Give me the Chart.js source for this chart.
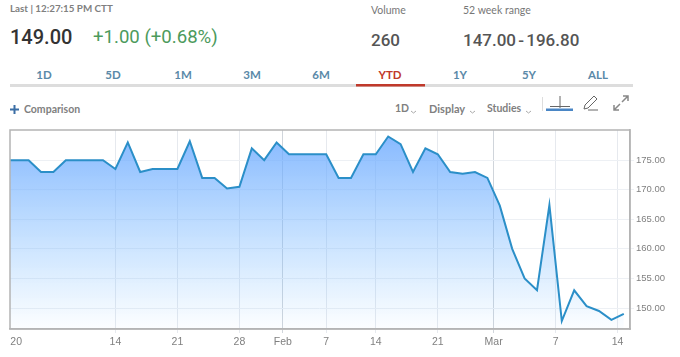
<!DOCTYPE html>
<html>
<head>
<meta charset="utf-8">
<title>YTD chart</title>
<script src="https://cdn.jsdelivr.net/npm/chart.js@4"></script>
<style>
html,body{margin:0;padding:0;background:#fff;width:680px;height:357px;overflow:hidden;font-family:Lato,"Open Sans",sans-serif}
.t{position:absolute;white-space:nowrap;line-height:1}
.big{font-family:Roboto,sans-serif;font-weight:500}
.tab{position:absolute;top:69px;width:70px;text-align:center;font-size:11.5px;font-weight:700;color:#5a89a8;line-height:1}
#wrap{position:absolute;left:0;top:120px;width:680px;height:237px}
#icons{position:absolute;left:0;top:0}
</style>
</head>
<body>
<div class="t" style="left:10px;top:4px;font-size:9.8px;font-weight:700;color:#808080">Last | 12:27:15 PM CTT</div>
<div class="t big" style="left:10px;top:27px;font-size:20px;color:#333">149.00</div>
<div class="t big" style="left:93px;top:28px;font-size:18.6px;font-weight:400;color:#4c9a5c">+1.00 (+0.68%)</div>
<div class="t" style="left:371px;top:5px;font-size:10.5px;color:#777">Volume</div>
<div class="t" style="left:463px;top:5px;font-size:10.5px;color:#777">52 week range</div>
<div class="t big" style="left:371px;top:32px;font-size:17px;color:#555">260</div>
<div class="t big" style="left:463px;top:32px;font-size:17px;word-spacing:-2px;color:#555">147.00 - 196.80</div>
<div id="tabs"></div>
<div class="t" style="left:24px;top:104px;font-size:10.5px;font-weight:700;color:#808080">Comparison</div>
<div class="t" style="left:395px;top:103px;font-size:10.5px;font-weight:700;color:#808080">1D</div>
<div class="t" style="left:429px;top:103px;font-size:11px;font-weight:700;color:#808080">Display</div>
<div class="t" style="left:487px;top:103px;font-size:10.5px;font-weight:700;color:#808080">Studies</div>
<svg id="icons" width="680" height="125" fill="none">
  <rect x="10" y="84" width="623" height="3" fill="#ddd"/>
  <rect x="356" y="84" width="69" height="2.5" fill="#c0392b"/>
  <path d="M10 109.500H19M14.500 105V114" stroke="#3b6ea5" stroke-width="2"/>
  <path d="M411 111l2.500 2 2.500-2M470 111l2.500 2 2.500-2M526 111l2.500 2 2.500-2" stroke="#aaa"/>
  <path d="M542.500 97V111" stroke="#ddd"/>
  <path d="M560 96V108M550 106.500H570" stroke="#666"/>
  <rect x="546" y="108.500" width="27" height="2.500" fill="#4a86c5"/>
  <path d="M584 109l1-4 9-9 3 3-9 9zM588 110H598" stroke="#666"/>
  <path d="M614 110l6-6M614 105V110H619M622 102l6-6M623 96H628V101" stroke="#888" stroke-width="1.500"/>
</svg>
<div id="wrap"><canvas id="chart" width="680" height="237"></canvas></div>
<script>
// period buttons above the chart
var tabs=["1D","5D","1M","3M","6M","YTD","1Y","5Y","ALL"];
var tabCenters=[44,113,183,252,321,390,460,529,598];

// one row per trading day, x is the day number on the axis
var days=[0,1,2,3,4,5,6,7,8,9,10,11,12,13,14,15,16,17,18,19,20,21,22,23,24,25,26,27,28,29,30,31,32,33,34,35,36,37,38,39,40,41,42,43,44,45,46,47,48,49,50];
var prices=[175,175,175,173,173,175,175,175,175,173.5,178,173,173.5,173.5,173.5,178.2,172,172,170.2,170.5,177,175,178,176,176,176,176,172,172,176,176,179,177.7,173,177,176,173,172.7,173,172,167.3,160,155,153,167.4,147.8,153,150.3,149.5,148,149];

var yTicks=[150,155,160,165,170,175];
var xTickDays=[1,9,14,19,22.5,26,30,35,39.5,44.5,49.5];
var xTickLabels=["20","14","21","28","Feb","7","14","21","Mar","7","14"];

tabs.forEach(function(name,i){
  var d=document.createElement("div");
  d.className="tab";
  d.style.left=(tabCenters[i]-35)+"px";
  d.textContent=name;
  if(name=="YTD") d.style.color="#c0392b";
  document.getElementById("tabs").appendChild(d);
});

var points=[];
for(var i in days){
  points.push({x:days[i],y:prices[i]});
}

new Chart(document.getElementById("chart"),{
  type:"line",
  data:{
    datasets:[{
      data:points,
      borderColor:"#2b8fc8",
      borderWidth:2,
      pointRadius:0,
      tension:0,
      fill:"start",
      backgroundColor:function(c){
        var area=c.chart.chartArea;
        if(!area) return "rgba(120,180,255,0.8)";
        var g=c.chart.ctx.createLinearGradient(0,area.top,0,area.bottom);
        g.addColorStop(0,"rgba(110,170,255,0.85)");
        g.addColorStop(1,"rgba(120,190,255,0.02)");
        return g;
      }
    }]
  },
  options:{
    responsive:false,
    animation:false,
    layout:{padding:{left:10,top:10,right:0,bottom:0}},
    plugins:{legend:{display:false},tooltip:{enabled:false}},
    scales:{
      x:{
        type:"linear",
        min:0.5,
        max:50.5,
        afterBuildTicks:function(axis){
          axis.ticks=xTickDays.map(function(v){return {value:v};});
        },
        afterFit:function(axis){axis.height=28;},
        border:{color:"#b4b4b4",width:1.5},
        grid:{
          tickLength:4,
          color:function(c){
            if(!c.tick||c.tick.value==1) return "transparent";
            if(c.tick.value==22.5||c.tick.value==39.5) return "#d0d5db";
            return "#e6e9ee";
          }
        },
        ticks:{
          autoSkip:false,
          maxRotation:0,
          padding:3,
          color:"#808080",
          font:{family:"'Liberation Sans'",size:10.5},
          callback:function(v){
            return xTickLabels[xTickDays.indexOf(v)];
          }
        }
      },
      y:{
        position:"right",
        min:146.45,
        max:180.1,
        afterBuildTicks:function(axis){
          axis.ticks=yTicks.map(function(v){return {value:v};});
        },
        afterFit:function(axis){axis.width=50;},
        border:{color:"#b4b4b4",width:1.5},
        grid:{color:"#edf0f4",tickLength:4},
        ticks:{
          padding:2,
          color:"#808080",
          font:{family:"'Liberation Sans'",size:9.5},
          callback:function(v){return v.toFixed(2);}
        }
      }
    }
  },
  plugins:[{
    // grey frame on the top and left of the plot
    id:"frame",
    afterDraw:function(chart){
      var a=chart.chartArea,ctx=chart.ctx;
      ctx.save();
      ctx.strokeStyle="#b4b4b4";
      ctx.lineWidth=1.5;
      ctx.strokeRect(a.left,a.top,a.right-a.left,a.bottom-a.top);
      ctx.restore();
    }
  }]
});
</script>
</body>
</html>
